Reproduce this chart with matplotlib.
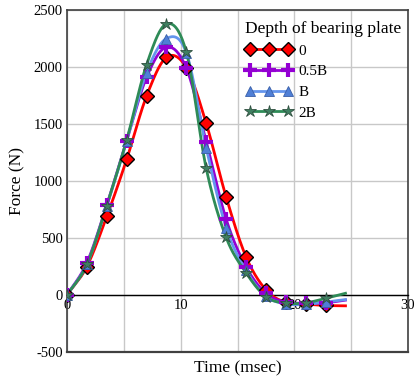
import numpy as np
import matplotlib
matplotlib.use("Agg")
import matplotlib.pyplot as plt

plt.rcParams['font.family'] = ['Liberation Serif', 'DejaVu Serif']
plt.rcParams['axes.unicode_minus'] = False

# time steps (msec)
time = [0, 1.75, 3.5, 5.25, 7.0, 8.75, 10.5, 12.25, 14.0, 15.75, 17.5, 19.25, 21.0, 22.75, 24.5]

# force (N) for each depth of bearing plate
force_0 = [0, 250, 690, 1190, 1745, 2085, 1995, 1505, 860, 335, 45, -65, -80, -92, -95]
force_05b = [0, 283, 790, 1355, 1910, 2175, 1990, 1345, 665, 248, 15, -62, -72, -68, -45]
force_b = [0, 270, 780, 1350, 1950, 2250, 2125, 1290, 590, 215, -10, -78, -82, -62, -40]
force_2b = [0, 268, 785, 1360, 2020, 2378, 2130, 1110, 505, 195, -15, -72, -68, -30, 15]

labels = ['0', '0.5B', 'B', '2B']


def smooth(x, y, n=20):
    # catmull-rom, roughly what the excel "smoothed line" does
    x = np.asarray(x, float)
    y = np.asarray(y, float)
    px = np.concatenate([[2 * x[0] - x[1]], x, [2 * x[-1] - x[-2]]])
    py = np.concatenate([[2 * y[0] - y[1]], y, [2 * y[-1] - y[-2]]])
    xs, ys = [], []
    t = np.linspace(0, 1, n, endpoint=False)
    for i in range(1, len(px) - 2):
        for p, out in ((px, xs), (py, ys)):
            p0, p1, p2, p3 = p[i - 1], p[i], p[i + 1], p[i + 2]
            out.extend(0.5 * (2 * p1 + (-p0 + p2) * t
                              + (2 * p0 - 5 * p1 + 4 * p2 - p3) * t ** 2
                              + (-p0 + 3 * p1 - 3 * p2 + p3) * t ** 3))
    xs.append(x[-1])
    ys.append(y[-1])
    return xs, ys


fig = plt.figure(figsize=(4.15, 3.78), dpi=100)
ax = fig.add_axes([67 / 415, 1 - 352 / 378, (408 - 67) / 415, (352 - 10) / 378])

styles = [
    (force_0, '#ff0000', 'D', '#ff0000', 'black', 7, 1.0),
    (force_05b, '#9400d3', 'P', '#9400d3', '#9400d3', 0, 0),
    (force_b, '#6495ed', '^', '#4f7fd6', '#3a5fa8', 7, 0.6),
    (force_2b, '#2e8b57', '*', '#3f7f60', '#2f4f3f', 9, 0.6),
]

handles = {}
order = [0, 2, 3, 1]
for k in order:
    y, col, mk, fc, ec, ms, mew = styles[k]
    sx, sy = smooth(time, y)
    ax.plot(sx, sy, color=col, lw=2, zorder=3 + k * 0.1)
    if mk == 'P':
        ax.plot(time[:14], y[:14], ls='none', marker='+', ms=10, mew=3,
                color=col, zorder=4 + k * 0.1)
        h, = ax.plot([], [], color=col, lw=2, marker='+', ms=10, mew=3)
    else:
        ax.plot(time[:14], y[:14], ls='none', marker=mk, ms=ms, mfc=fc,
                mec=ec, mew=mew, zorder=4 + k * 0.1)
        h, = ax.plot([], [], color=col, lw=2, marker=mk, ms=ms, mfc=fc,
                     mec=ec, mew=mew)
    handles[k] = h

ax.set_xlim(0, 30)
ax.set_ylim(-500, 2500)
ax.set_xticks([0, 10, 20, 30])
ax.set_xticks([5, 15, 25], minor=True)
ax.set_yticks(np.arange(-500, 2501, 500))
ax.grid(True, which='both', color='#c8c8c8', lw=1)
ax.set_axisbelow(True)
ax.tick_params(which='both', length=0, labelsize=10.5, pad=3)

ax.spines['bottom'].set_position(('data', 0))
ax.spines['bottom'].set_color('black')
ax.spines['bottom'].set_linewidth(1)
for s in ['left', 'right', 'top']:
    ax.spines[s].set_color('#404040')
    ax.spines[s].set_linewidth(1.2)
ax.axhline(-500, color='#404040', lw=1.6, clip_on=False, zorder=5)

ax.set_xlabel('Time (msec)', fontsize=12.5)
ax.xaxis.set_label_coords(0.5, -0.025)
ax.set_ylabel('Force (N)', fontsize=12.5, labelpad=6)

leg = ax.legend([handles[i] for i in range(4)], labels, title='Depth of bearing plate',
                loc='upper left', bbox_to_anchor=(0.505, 0.985), frameon=False,
                fontsize=11, title_fontproperties={'size': 12.5},
                numpoints=3, handlelength=3.1, handletextpad=0.4,
                labelspacing=0.45, borderaxespad=0)
leg._legend_box.align = 'left'

fig.savefig('out.png', dpi=100)
